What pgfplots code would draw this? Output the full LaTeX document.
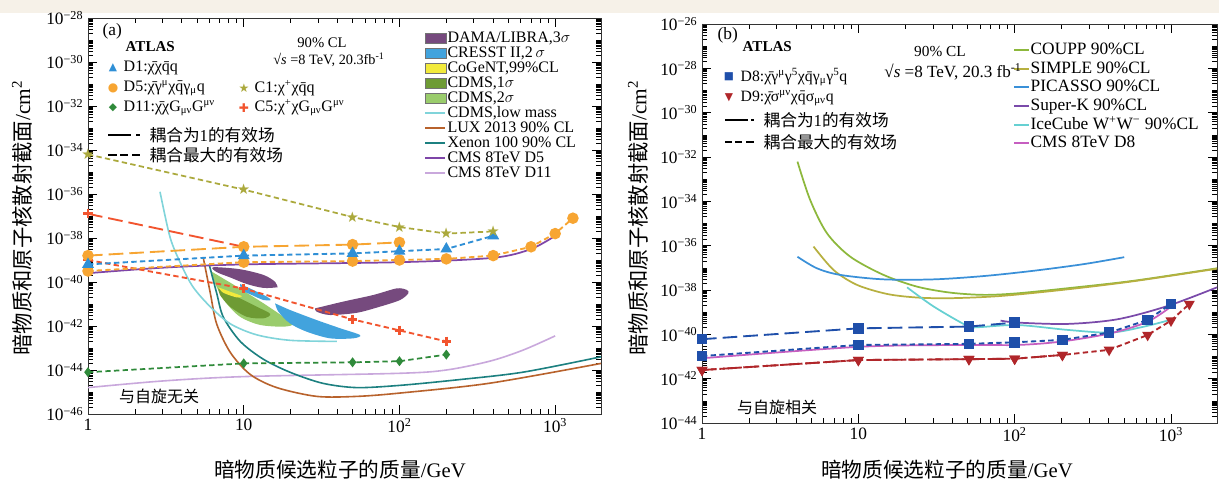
\documentclass[border=0pt]{standalone}
\usepackage{pgfplots}
\pgfplotsset{compat=1.18}
\usepackage{fontspec}
\setmainfont{Liberation Serif}
\newfontfamily\cjk{Noto Sans CJK SC}
\newfontfamily\sym{DejaVu Sans}
\usetikzlibrary{plotmarks}

\definecolor{cream}{HTML}{F6F1E8}
\definecolor{cC1}{HTML}{ABA93C}
\definecolor{cD1}{HTML}{2F8FD6}
\definecolor{cD5}{HTML}{F7A532}
\definecolor{cCMS5}{HTML}{7E45A8}
\definecolor{cC5}{HTML}{F2542E}
\definecolor{cD11}{HTML}{2F8A3A}
\definecolor{cCMS11}{HTML}{C9A8DC}
\definecolor{cXe}{HTML}{1C8080}
\definecolor{cLUX}{HTML}{B8622C}
\definecolor{cLow}{HTML}{80D4DA}
\definecolor{cDAMA}{HTML}{764A7E}
\definecolor{cCRESST}{HTML}{42A3DD}
\definecolor{cCoG}{HTML}{F2EA3C}
\definecolor{cCD1}{HTML}{6E9B34}
\definecolor{cCD2}{HTML}{9ACC6C}
\definecolor{cCOUPP}{HTML}{8DB83C}
\definecolor{cSIMPLE}{HTML}{B7B040}
\definecolor{cPIC}{HTML}{3A90D8}
\definecolor{cSK}{HTML}{7A4AAA}
\definecolor{cIce}{HTML}{66D0D2}
\definecolor{cCMSeight}{HTML}{C65EC0}
\definecolor{cD8}{HTML}{1F4FAA}
\definecolor{cD9}{HTML}{B0262A}

\pgfplotsset{
  boxleg/.style={legend image code/.code={\draw[##1,draw=black!55,line width=0.5pt] (0pt,-4pt) rectangle (16pt,4pt);}},
  linelegA/.style={legend image code/.code={\draw[##1] (0pt,0pt) -- (15pt,0pt);}},
  linelegB/.style={legend image code/.code={\draw[##1] (0pt,0pt) -- (11pt,0pt);}},
}
\tikzset{
  shortdash/.style={dash pattern=on 4pt off 2.5pt},
  longdash/.style={dash pattern=on 11pt off 4.5pt},
}

% minor ticks on the exponent axis: 9 per decade
\def\minorA{}
\foreach \d in {-46,...,-29}{\foreach \k in {0,0.30103,0.47712,0.60206,0.69897,0.77815,0.84510,0.90309,0.95424}{\pgfmathsetmacro\v{\d+\k}\xdef\minorA{\minorA\v,}}}
\xdef\minorA{\minorA-28}
\def\minorB{}
\foreach \d in {-44,...,-27}{\foreach \k in {0,0.30103,0.47712,0.60206,0.69897,0.77815,0.84510,0.90309,0.95424}{\pgfmathsetmacro\v{\d+\k}\xdef\minorB{\minorB\v,}}}
\xdef\minorB{\minorB-26}

\newcommand\lf{\fontsize{12}{13}\selectfont}
\newcommand\lfb{\fontsize{11.8}{13}\selectfont}
\newcommand\cf{\fontsize{12.5}{13}\selectfont}

\begin{document}
\begin{tikzpicture}
\path[use as bounding box] (0,0) rectangle (914.25pt,364.5pt);
\fill[white] (0,0) rectangle (914.25pt,364.5pt);
\fill[cream] (0,354.75pt) rectangle (914.25pt,364.5pt);

% ---------------- (a) spin independent
\begin{axis}[
  scale only axis, anchor=south west, clip=false,
  at={(66pt,54pt)}, width=384.75pt, height=297pt,
  xmode=log, xmin=1, xmax=1970,
  xtick={1,10,100,1000},
  xticklabels={1,10,10\textsuperscript{2},10\textsuperscript{3}},
  ymin=-46, ymax=-28, ytick={-46,-44,...,-28},
  yticklabels={10\textsuperscript{−46},10\textsuperscript{−44},10\textsuperscript{−42},10\textsuperscript{−40},10\textsuperscript{−38},10\textsuperscript{−36},10\textsuperscript{−34},10\textsuperscript{−32},10\textsuperscript{−30},10\textsuperscript{−28}},
  minor ytick/.expand once=\minorA,
  tick label style={font=\fontsize{13}{13}\selectfont},
  major tick length=7pt, minor tick length=3.5pt,
  tick style={black, line width=0.5pt},
  axis line style={black!80, line width=0.7pt},
  legend cell align=left,
  legend style={at={(0.655,0.967)}, anchor=north west, draw=none, fill=none,
    font=\fontsize{12}{12}\selectfont, row sep=0.75pt, inner sep=0pt,
    nodes={inner sep=0.5pt, text height=7.5pt, text depth=2pt, anchor=west}},
]
% signal regions
\addplot[fill=cCD2, draw=none, smooth, forget plot] coordinates {(6.23,-39.53) (9.02,-40.21) (13.4,-40.97) (18.0,-41.58) (20.8,-41.91) (18.0,-42.03) (12.7,-41.95) (9.47,-41.58) (7.59,-40.89) (6.54,-40.06) (6.23,-39.53)};
\addplot[fill=cCD1, draw=none, smooth, forget plot] coordinates {(6.87,-40.29) (9.02,-40.67) (12.1,-41.12) (14.8,-41.45) (13.4,-41.65) (10.45,-41.58) (8.17,-41.12) (7.04,-40.59) (6.87,-40.29)};
\addplot[fill=cCoG, draw=none, smooth, forget plot] coordinates {(6.87,-40.24) (8.17,-40.44) (9.71,-40.64) (9.02,-40.70) (7.40,-40.49) (6.87,-40.24)};
\addplot[fill=cCRESST, draw=none, smooth, forget plot] coordinates {(9.47,-40.09) (11.5,-40.36) (14.1,-40.67) (14.9,-40.82) (13.4,-40.82) (11.25,-40.59) (9.71,-40.36) (9.47,-40.09)};
\addplot[fill=cCRESST, draw=none, smooth, forget plot] coordinates {(15.9,-40.97) (19.8,-41.27) (29.4,-41.73) (41.5,-42.10) (55.8,-42.41) (50.6,-42.56) (35.8,-42.56) (25.4,-42.26) (19.8,-41.88) (16.7,-41.35) (15.9,-40.97)};
\addplot[fill=cDAMA, draw=none, smooth, forget plot] coordinates {(16.5,-40.24) (15.9,-39.99) (13.4,-39.68) (9.47,-39.42) (6.38,-39.33) (6.71,-39.55) (8.17,-39.79) (10.45,-40.09) (13.4,-40.27) (16.5,-40.24)};
\addplot[fill=cDAMA, draw=none, smooth, forget plot] coordinates {(28.7,-41.20) (43.6,-40.89) (68.0,-40.59) (96.1,-40.29) (111.4,-40.36) (114.1,-40.51) (100.9,-40.82) (75.0,-41.12) (53.2,-41.40) (35.8,-41.50) (29.4,-41.35) (28.7,-41.20)};
% experiment limits
\addplot[color=cCMS11, line width=1.2pt, smooth, forget plot] coordinates {(1,-44.8) (3,-44.5) (10,-44.3) (100,-44.15) (200,-44.0) (380,-43.6) (620,-43.1) (1000,-42.45)};
\addplot[color=cLUX, line width=1.2pt, smooth, forget plot] coordinates {(5.5,-38.9) (6.1,-40.5) (6.7,-41.9) (8.2,-43.2) (11,-44.2) (16.3,-44.8) (29.5,-45.2) (53,-45.2) (100,-45.05) (380,-44.6) (1970,-43.7)};
\addplot[color=cXe, line width=1.2pt, smooth, forget plot] coordinates {(6.0,-39.2) (6.7,-40.5) (7.4,-41.6) (9.5,-42.7) (13.3,-43.5) (19.8,-44.1) (32,-44.6) (53,-44.8) (100,-44.7) (233,-44.45) (620,-44.1) (1970,-43.4)};
\addplot[color=cLow, line width=1.2pt, smooth, forget plot] coordinates {(2.9,-35.9) (3.36,-37.95) (3.9,-39.1) (4.7,-40.2) (6.05,-41.1) (8.2,-41.9) (12.1,-42.4) (19.8,-42.65) (39.6,-42.7)};
\addplot[color=cCMS5, line width=1.3pt, smooth, forget plot] coordinates {(1,-39.6) (3,-39.35) (10,-39.2) (100,-39.1) (400,-38.9) (700,-38.5) (1000,-37.9)};
% ATLAS
\addplot[color=cD11, line width=1.3pt, shortdash, mark=diamond*, mark size=2.7pt, mark options={solid}, forget plot] coordinates {(1,-44.1) (10,-43.7) (50,-43.65) (100,-43.6) (200,-43.3)};
\addplot[color=cC5, line width=1.4pt, longdash, mark=+, mark size=3.5pt, mark options={solid,line width=2pt}, forget plot] coordinates {(1,-36.9) (10,-38.4)};
\addplot[color=cC5, line width=1.4pt, shortdash, mark=+, mark size=3.5pt, mark options={solid,line width=2pt}, forget plot] coordinates {(1,-39.0) (10,-40.3) (50,-41.7) (100,-42.2) (200,-42.7)};
\addplot[color=cD5, line width=1.4pt, longdash, mark=*, mark size=3.6pt, mark options={solid}, forget plot] coordinates {(1,-38.8) (10,-38.4) (50,-38.3) (100,-38.2)};
\addplot[color=cD5, line width=1.4pt, shortdash, mark=*, mark size=3.6pt, mark options={solid}, forget plot] coordinates {(1,-39.5) (10,-39.1) (50,-39.05) (100,-39.0) (200,-38.95) (400,-38.8) (700,-38.4) (1000,-37.8) (1300,-37.1)};
\addplot[color=cD1, line width=1.4pt, shortdash, mark=triangle*, mark size=3.8pt, mark options={solid}, forget plot] coordinates {(1,-39.2) (10,-38.8) (50,-38.7) (100,-38.6) (200,-38.5) (400,-37.9)};
\addplot[color=cC1, line width=1.3pt, shortdash, mark=text, text mark={\fontsize{11}{11}\selectfont\sym\color{cC1}★}, mark options={solid}, forget plot] coordinates {(1,-34.2) (10,-35.8) (50,-37.05) (100,-37.5) (200,-37.8) (400,-37.7)};
% legend
\addlegendimage{boxleg, fill=cDAMA}\addlegendentry{DAMA/LIBRA,3$\sigma$}
\addlegendimage{boxleg, fill=cCRESST}\addlegendentry{CRESST II,2\,$\sigma$}
\addlegendimage{boxleg, fill=cCoG}\addlegendentry{CoGeNT,99\%CL}
\addlegendimage{boxleg, fill=cCD1}\addlegendentry{CDMS,1$\sigma$}
\addlegendimage{boxleg, fill=cCD2}\addlegendentry{CDMS,2$\sigma$}
\addlegendimage{linelegA, color=cLow, line width=1.4pt}\addlegendentry{CDMS,low mass}
\addlegendimage{linelegA, color=cLUX, line width=1.4pt}\addlegendentry{LUX 2013 90\% CL}
\addlegendimage{linelegA, color=cXe, line width=1.4pt}\addlegendentry{Xenon 100 90\% CL}
\addlegendimage{linelegA, color=cCMS5, line width=1.4pt}\addlegendentry{CMS 8TeV D5}
\addlegendimage{linelegA, color=cCMS11, line width=1.4pt}\addlegendentry{CMS 8TeV D11}
\end{axis}

% ---------------- (b) spin dependent
\begin{axis}[
  scale only axis, anchor=south west, clip=false,
  at={(526.5pt,47.25pt)}, width=386.25pt, height=299.25pt,
  xmode=log, xmin=1, xmax=1970,
  xtick={1,10,100,1000},
  xticklabels={1,10,10\textsuperscript{2},10\textsuperscript{3}},
  ymin=-44, ymax=-26, ytick={-44,-42,...,-26},
  yticklabels={10\textsuperscript{−44},10\textsuperscript{−42},10\textsuperscript{−40},10\textsuperscript{−38},10\textsuperscript{−36},10\textsuperscript{−34},10\textsuperscript{−32},10\textsuperscript{−30},10\textsuperscript{−28},10\textsuperscript{−26}},
  minor ytick/.expand once=\minorB,
  tick label style={font=\fontsize{13}{13}\selectfont},
  major tick length=7pt, minor tick length=3.5pt,
  tick style={black, line width=0.5pt},
  axis line style={black!80, line width=0.7pt},
  legend cell align=left,
  legend style={at={(0.604,0.958)}, anchor=north west, draw=none, fill=none,
    font=\fontsize{13}{13}\selectfont, row sep=0.5pt, inner sep=0pt,
    nodes={inner sep=0.5pt, text height=9.5pt, text depth=3pt, anchor=west}},
]
\addplot[color=cCOUPP, line width=1.3pt, smooth, forget plot] coordinates {(4.08,-32.21) (4.92,-33.94) (6.3,-35.44) (8.89,-36.50) (14.5,-37.32) (23.8,-37.85) (38.9,-38.12) (63.6,-38.22) (104,-38.15) (218,-37.92) (582,-37.58) (1970,-37.02)};
\addplot[color=cSIMPLE, line width=1.3pt, smooth, forget plot] coordinates {(5.17,-36.04) (6.95,-37.10) (9.81,-37.77) (15.3,-38.18) (23.8,-38.34) (38.9,-38.37) (81.3,-38.27) (218,-37.97) (582,-37.6) (1970,-37.04)};
\addplot[color=cPIC, line width=1.3pt, smooth, forget plot] coordinates {(4.08,-36.50) (5.43,-37.02) (7.67,-37.32) (14.5,-37.52) (30.4,-37.52) (63.6,-37.37) (133,-37.13) (278,-36.83) (502,-36.52)};
\addplot[color=cIce, line width=1.3pt, smooth, forget plot] coordinates {(20.5,-37.88) (30.4,-38.75) (49.8,-39.62) (57.7,-39.68) (104,-39.58) (218,-39.80) (412,-39.92) (674,-39.65) (952,-39.38)};
\addplot[color=cSK, line width=1.3pt, smooth, forget plot] coordinates {(81.3,-39.38) (104,-39.47) (218,-39.53) (455,-39.32) (952,-38.72) (1970,-37.88)};
\addplot[color=cCMSeight, line width=1.3pt, smooth, forget plot] coordinates {(1,-41.08) (10.3,-40.56) (49.8,-40.48) (104,-40.48) (197,-40.33) (412,-39.95) (709,-39.43) (1000,-38.75)};
\addplot[color=cD9, line width=1.4pt, shortdash, mark=triangle*, mark size=3.4pt, mark options={solid,rotate=180}, forget plot] coordinates {(1,-41.61) (10,-41.16) (51,-41.12) (100,-41.10) (202,-40.93) (402,-40.70) (709,-40.03) (1000,-39.38) (1310,-38.63)};
\addplot[color=cD9, line width=1.4pt, longdash, mark=triangle*, mark size=3.4pt, mark options={solid,rotate=180}, forget plot] coordinates {(1,-41.61) (10,-41.16) (51,-41.12) (100,-41.10) (202,-40.93)};
\addplot[color=cD8, line width=1.4pt, shortdash, mark=square*, mark size=3.2pt, mark options={solid}, forget plot] coordinates {(1,-40.98) (10,-40.48) (51,-40.43) (100,-40.36) (202,-40.25) (402,-39.92) (709,-39.35) (1000,-38.63)};
\addplot[color=cD8, line width=1.4pt, longdash, mark=square*, mark size=3.2pt, mark options={solid}, forget plot] coordinates {(1,-40.22) (10,-39.73) (51,-39.65) (100,-39.47)};
\addlegendimage{linelegB, color=cCOUPP, line width=1.5pt}\addlegendentry{COUPP 90\%CL}
\addlegendimage{linelegB, color=cSIMPLE, line width=1.5pt}\addlegendentry{SIMPLE 90\%CL}
\addlegendimage{linelegB, color=cPIC, line width=1.5pt}\addlegendentry{PICASSO 90\%CL}
\addlegendimage{linelegB, color=cSK, line width=1.5pt}\addlegendentry{Super-K 90\%CL}
\addlegendimage{linelegB, color=cIce, line width=1.5pt}\addlegendentry{IceCube W\textsuperscript{+}W\textsuperscript{−} 90\%CL}
\addlegendimage{linelegB, color=cCMSeight, line width=1.5pt}\addlegendentry{CMS 8TeV D8}
\end{axis}

% ---------------- texts, in pixel units of the reference
\begin{scope}[x=0.75pt, y=-0.75pt, yshift=364.5pt]
\node[rotate=90, font=\fontsize{16}{16}\selectfont] at (22,218) {{\cjk 暗物质和原子核散射截面}/cm\textsuperscript{2}};
\node[rotate=90, font=\fontsize{16}{16}\selectfont] at (638,218) {{\cjk 暗物质和原子核散射截面}/cm\textsuperscript{2}};
\node[font=\fontsize{15.5}{16}\selectfont] at (340,470) {{\cjk 暗物质候选粒子的质量}/GeV};
\node[font=\fontsize{15.5}{16}\selectfont] at (947,470) {{\cjk 暗物质候选粒子的质量}/GeV};
% panel (a)
\node[anchor=west, font=\fontsize{13}{13}\selectfont] at (98,31) {(a)};
\node[anchor=west, font=\fontsize{11.3}{12}\selectfont\bfseries] at (121,47) {ATLAS};
\node[text=cD1, font=\sym\fontsize{8}{8}\selectfont] at (113,68) {▲};
\node[anchor=west, font=\lf] at (119,68) {D1:χ̄χq̄q};
\node[text=cD5, font=\sym\fontsize{9}{9}\selectfont] at (113,88) {●};
\node[anchor=west, font=\lf] at (119,88) {D5:χ̄γ\textsuperscript{μ}χq̄γ\textsubscript{μ}q};
\node[text=cD11, font=\sym\fontsize{8}{8}\selectfont] at (113,108) {◆};
\node[anchor=west, font=\lf] at (119,108) {D11:χ̄χG\textsubscript{μν}G\textsuperscript{μν}};
\node[text=cC1, font=\sym\fontsize{9}{9}\selectfont] at (244,88) {★};
\node[anchor=west, font=\lf] at (250,88) {C1:χ\textsuperscript{+}χq̄q};
\node[text=cC5, font=\sym\fontsize{9}{9}\selectfont] at (244,108) {✚};
\node[anchor=west, font=\lf] at (250,108) {C5:χ\textsuperscript{+}χG\textsubscript{μν}G\textsuperscript{μν}};
\draw[line width=1.3pt] (108,135) -- (131,135) (136,135) -- (140,135);
\node[anchor=west, font=\cf] at (145,135) {{\cjk 耦合为}1{\cjk 的有效场}};
\draw[line width=1.3pt] (108,155) -- (117,155) (120,155) -- (128,155) (132,155) -- (140,155);
\node[anchor=west, font=\cf] at (145,155) {{\cjk 耦合最大的有效场}};
\node[font=\fontsize{11}{12}\selectfont] at (322,43) {90\% CL};
\node[font=\fontsize{10.7}{12}\selectfont] at (329,60) {√\textit{s} =8 TeV, 20.3fb\textsuperscript{-1}};
\node[font=\cjk\fontsize{12}{12}\selectfont] at (159,396) {与自旋无关};
% panel (b)
\node[anchor=west, font=\fontsize{13}{13}\selectfont] at (713,35) {(b)};
\node[anchor=west, font=\fontsize{11.3}{12}\selectfont\bfseries] at (738,47) {ATLAS};
\node[text=cD8, font=\sym\fontsize{8}{8}\selectfont] at (729,77) {■};
\node[anchor=west, font=\lfb] at (736,77) {D8:χ̄γ\textsuperscript{μ}γ\textsuperscript{5}χq̄γ\textsubscript{μ}γ\textsuperscript{5}q};
\node[text=cD9, font=\sym\fontsize{8}{8}\selectfont] at (729,98) {▼};
\node[anchor=west, font=\lfb] at (736,98) {D9:χ̄σ\textsuperscript{μν}χq̄σ\textsubscript{μν}q};
\draw[line width=1.3pt] (725,120) -- (748,120) (751,120) -- (754,120);
\node[anchor=west, font=\cf] at (759,120) {{\cjk 耦合为}1{\cjk 的有效场}};
\draw[line width=1.3pt] (725,142) -- (732,142) (735,142) -- (742,142) (746,142) -- (754,142);
\node[anchor=west, font=\cf] at (759,142) {{\cjk 耦合最大的有效场}};
\node[font=\fontsize{11.5}{12}\selectfont] at (940,52) {90\% CL};
\node[font=\fontsize{12.8}{13}\selectfont] at (953,72) {√\textit{s} =8 TeV, 20.3 fb\textsuperscript{-1}};
\node[font=\cjk\fontsize{12}{12}\selectfont] at (777,407) {与自旋相关};
\end{scope}
\end{tikzpicture}
\end{document}
